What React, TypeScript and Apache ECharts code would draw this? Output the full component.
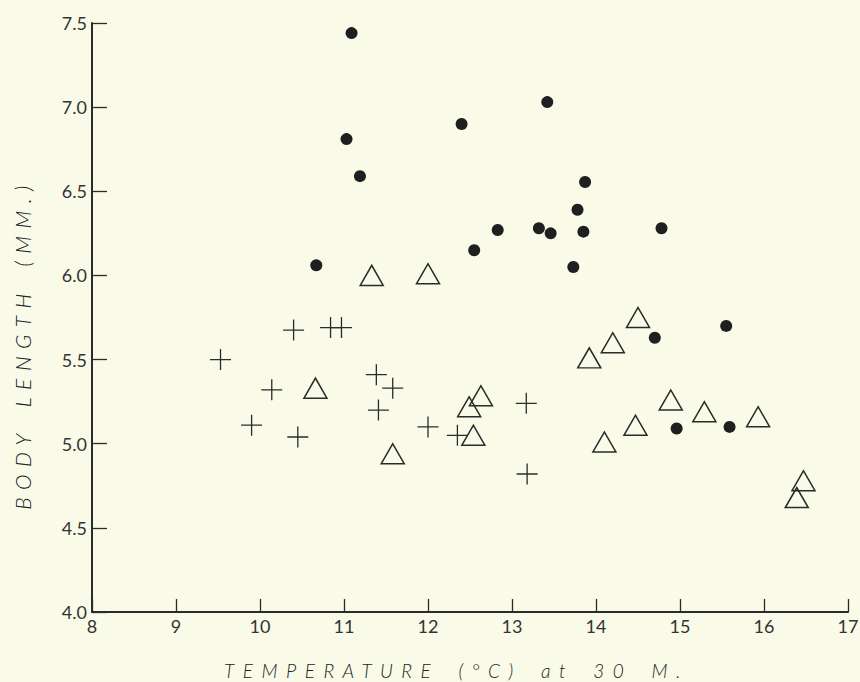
import React, { useEffect, useRef } from 'react';
import * as echarts from 'echarts';

// Temperature (°C) at 30 m vs body length (mm)
const dotPoints: [number, number][] = [
  [11.09, 7.44], [11.03, 6.81], [11.19, 6.59], [10.67, 6.06], [13.42, 7.03],
  [12.40, 6.90], [13.87, 6.555], [13.78, 6.39], [12.83, 6.27], [13.32, 6.28],
  [13.46, 6.25], [13.85, 6.26], [14.78, 6.28], [12.55, 6.15], [13.73, 6.05],
  [15.55, 5.70], [14.70, 5.63], [14.96, 5.09], [15.59, 5.10],
];

const trianglePoints: [number, number][] = [
  [11.33, 6.00], [12.00, 6.01], [10.66, 5.33], [11.58, 4.94], [12.63, 5.285],
  [12.49, 5.22], [12.54, 5.05], [13.92, 5.51], [14.20, 5.60], [14.50, 5.75],
  [14.10, 5.01], [14.47, 5.11], [14.89, 5.26], [15.29, 5.19], [15.93, 5.16],
  [16.47, 4.78], [16.39, 4.68],
];

const plusPoints: [number, number][] = [
  [9.53, 5.50], [10.14, 5.32], [9.90, 5.11], [10.45, 5.04], [10.40, 5.675],
  [10.84, 5.69], [10.97, 5.69], [11.385, 5.41], [11.58, 5.33], [11.41, 5.20],
  [12.00, 5.10], [12.35, 5.05], [13.17, 5.24], [13.18, 4.82],
];

const xTitle = 'TEMPERATURE (°C) at 30 M.';
const yTitle = 'BODY LENGTH (MM.)';

const BG = '#f9fbe8';
const INK = '#2b2b2b';
const FONT = 'Lato, "DejaVu Sans", sans-serif';
const PLUS =
  'path://M9.85,0H11.15V9.85H21V11.15H11.15V21H9.85V11.15H0V9.85H9.85Z';

export default function App() {
  const ref = useRef<HTMLDivElement>(null);

  useEffect(() => {
    if (!ref.current) return;
    const chart = echarts.init(ref.current, null, { renderer: 'svg' });
    chart.setOption({
      animation: false,
      backgroundColor: BG,
      grid: {
        left: 92,
        right: 12,
        top: 23,
        bottom: 70,
        containLabel: false,
        outerBoundsMode: 'none',
      },
      xAxis: {
        type: 'value',
        min: 8,
        max: 17,
        interval: 1,
        name: xTitle,
        nameLocation: 'middle',
        nameGap: 49,
        nameTextStyle: {
          fontSize: 19,
          fontStyle: 'italic',
          fontWeight: 300,
          fontFamily: FONT,
          color: '#222',
          padding: [0, 27, 0, 0],
        },
        axisLine: { show: true, onZero: false, lineStyle: { color: INK, width: 2 } },
        axisTick: { show: true, inside: true, length: 13, lineStyle: { color: INK, width: 1.3 } },
        splitLine: { show: false },
        axisLabel: {
          fontSize: 18,
          fontWeight: 'normal',
          fontFamily: FONT,
          color: '#333',
          margin: 5,
        },
      },
      yAxis: {
        type: 'value',
        min: 4,
        max: 7.5,
        interval: 0.5,
        name: yTitle,
        nameLocation: 'middle',
        nameRotate: 90,
        nameGap: 59,
        nameTextStyle: {
          fontSize: 21,
          fontStyle: 'italic',
          fontWeight: 300,
          fontFamily: FONT,
          color: '#222',
          padding: [0, 53, 0, 0],
        },
        axisLine: { show: true, onZero: false, lineStyle: { color: INK, width: 2 } },
        axisTick: { show: true, inside: true, length: 15, lineStyle: { color: INK, width: 1.3 } },
        splitLine: { show: false },
        axisLabel: {
          fontSize: 18,
          fontWeight: 'normal',
          fontFamily: FONT,
          color: '#333',
          margin: 5,
          formatter: (v: number) => v.toFixed(1),
        },
      },
      series: [
        {
          name: 'dots',
          type: 'scatter',
          data: dotPoints,
          symbol: 'circle',
          symbolSize: 12,
          itemStyle: { color: '#1f1f1f', opacity: 1 },
        },
        {
          name: 'triangles',
          type: 'scatter',
          data: trianglePoints,
          symbol: 'triangle',
          symbolSize: [23, 20],
          itemStyle: { color: 'transparent', borderColor: INK, borderWidth: 1.5, opacity: 1 },
        },
        {
          name: 'plus',
          type: 'scatter',
          data: plusPoints,
          symbol: PLUS,
          symbolSize: 21,
          itemStyle: { color: INK, opacity: 1 },
        },
      ],
    });
    return () => chart.dispose();
  }, []);

  return (
    <>
      <style>{`
        body { margin: 0; background: ${BG}; }
        .chart text[style*="italic"][style*="19px"] { letter-spacing: 8.5px; word-spacing: 6px; }
        .chart text[style*="italic"][style*="21px"] { letter-spacing: 7.5px; word-spacing: 7px; }
      `}</style>
      <div
        className="chart"
        ref={ref}
        style={{ position: 'absolute', left: 0, top: 0, width: 860, height: 682, background: BG }}
      />
    </>
  );
}
